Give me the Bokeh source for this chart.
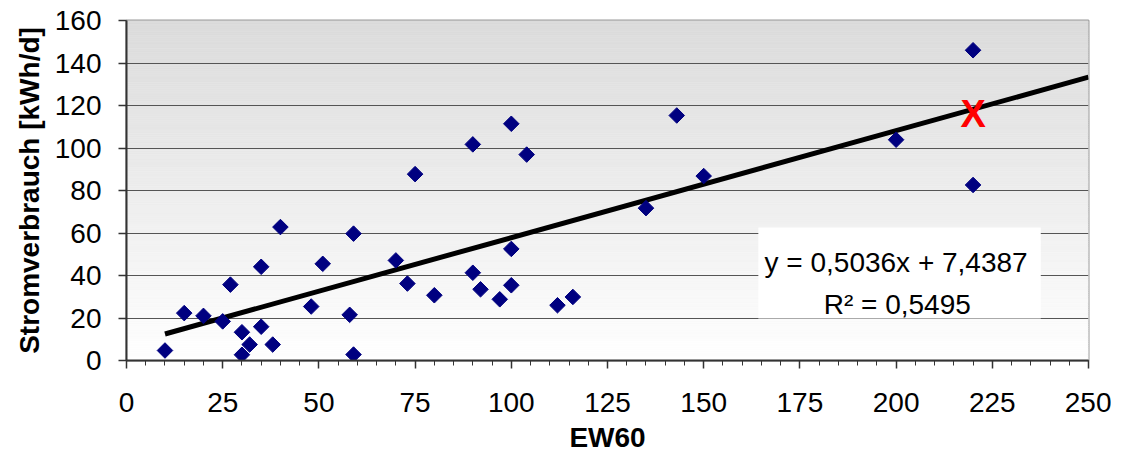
import numpy as np
from bokeh.plotting import figure
from bokeh.models import Range1d, SingleIntervalTicker, FixedTicker, Label, ColumnDataSource
from bokeh.embed import file_html
from bokeh.resources import INLINE
from bokeh.core.properties import value

# ---- data ----
ew60 = [10, 15, 20, 25, 27, 30, 30, 32, 35, 35, 38, 40, 48, 51, 58, 59, 59,
        70, 73, 75, 80, 90, 90, 92, 97, 100, 100, 100, 104, 112, 116, 135,
        143, 150, 200, 220, 220]
strom = [4.7, 22.3, 21.0, 18.4, 35.7, 13.3, 2.7, 7.5, 44.1, 15.9, 7.5, 62.8,
         25.4, 45.5, 21.5, 59.7, 2.8, 47.1, 36.2, 87.7, 30.7, 101.7, 41.3,
         33.5, 28.8, 111.4, 52.5, 35.4, 96.9, 26.0, 29.9, 71.7, 115.3, 86.8,
         103.9, 146.0, 82.6]
marked_x = [220]
marked_y = [116.0]
slope = 0.5036
intercept = 7.4387
r_squared = 0.5495
x_ticks = [0, 25, 50, 75, 100, 125, 150, 175, 200, 225, 250]
y_ticks = [0, 20, 40, 60, 80, 100, 120, 140, 160]

FONT = "Liberation Sans"

p = figure(frame_width=962, frame_height=340,
           min_border_left=126, min_border_top=20, min_border_right=23,
           min_border_bottom=90,
           x_range=Range1d(0, 250), y_range=Range1d(0, 160),
           output_backend="svg", toolbar_location=None,
           background_fill_color="white", border_fill_color="white")

# gradient background of the plot area
n = 160
edges = np.linspace(0, 160, n + 1)
cols = []
for i in range(n):
    t = (edges[i] + edges[i + 1]) / 2 / 160
    g = int(round(255 - t * (255 - 219)))
    cols.append("#%02x%02x%02x" % (g, g, g))
bg_src = ColumnDataSource(dict(bottom=edges[:-1], top=edges[1:], c=cols))
bg = p.quad(left=0, right=250, bottom="bottom", top="top", fill_color="c",
            line_color="c", line_width=0.6, source=bg_src)
bg.level = "image"

# regression equation box
p.quad(left=164.2, right=237.6, bottom=19.8, top=62.6,
       fill_color="white", line_color=None)

# trend line
tx = [min(ew60), 250]
ty = [slope * v + intercept for v in tx]
p.line(tx, ty, line_color="black", line_width=5)

# data points
p.scatter(ew60, strom, marker="square", size=11, angle=np.pi / 4,
          fill_color="#000080", line_color="#000080")

# marked point
p.text(marked_x, marked_y, text=["X"], text_color="#ff0000",
       text_font=value(FONT), text_font_style="bold", text_font_size="38px",
       text_align="center", text_baseline="middle")

eq1 = "y = %sx + %s" % (("%.4f" % slope).replace(".", ","),
                        ("%.4f" % intercept).replace(".", ","))
eq2 = "R\u00b2 = %s" % ("%.4f" % r_squared).replace(".", ",")
p.add_layout(Label(x=200, y=46.3, text=eq1, text_align="center",
                   text_baseline="alphabetic", text_font=FONT,
                   text_font_size="28px", text_color="black"))
p.add_layout(Label(x=200.3, y=26.5, text=eq2, text_align="center",
                   text_baseline="alphabetic", text_font=FONT,
                   text_font_size="28px", text_color="black"))

# axes
p.xaxis.ticker = SingleIntervalTicker(interval=25, num_minor_ticks=5)
p.yaxis.ticker = SingleIntervalTicker(interval=20, num_minor_ticks=0)
p.xgrid.visible = False
p.ygrid.ticker = FixedTicker(ticks=y_ticks[1:-1])
p.ygrid.grid_line_color = "#555555"
p.ygrid.grid_line_width = 1

p.xaxis.axis_label = "EW60"
p.yaxis.axis_label = "Stromverbrauch [kWh/d]"
for ax in (p.xaxis[0], p.yaxis[0]):
    ax.major_label_text_font = FONT
    ax.major_label_text_font_size = "28px"
    ax.major_label_text_color = "black"
    ax.axis_label_text_font = FONT
    ax.axis_label_text_font_size = "28px"
    ax.axis_label_text_font_style = "bold"
    ax.axis_label_text_color = "black"
    ax.axis_line_color = "#333333"
    ax.axis_line_width = 2
    ax.major_tick_line_color = "#333333"
    ax.major_tick_line_width = 1.5
    ax.minor_tick_line_color = "#333333"
    ax.minor_tick_line_width = 1
    ax.major_tick_in = 0
    ax.major_tick_out = 8
    ax.minor_tick_in = 0
    ax.minor_tick_out = 5
p.xaxis.major_label_standoff = 24
p.xaxis.axis_label_standoff = 7
p.yaxis.major_label_standoff = 17
p.yaxis.axis_label_standoff = 7

p.outline_line_color = "#999999"
p.outline_line_width = 2

open("out.html", "w").write(file_html(p, INLINE))
